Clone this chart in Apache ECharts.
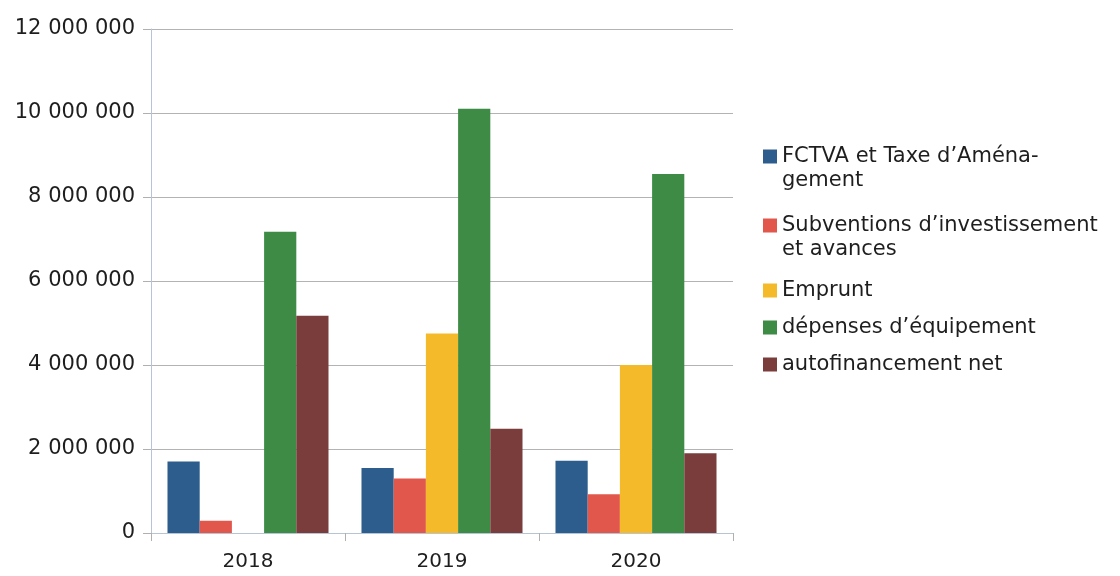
<!DOCTYPE html>
<html><head><meta charset="utf-8">
<script src="https://cdn.jsdelivr.net/npm/echarts@6/dist/echarts.min.js"></script>
<style>html,body{margin:0;padding:0;background:#fff}#c{width:1120px;height:576px}</style>
</head><body><div id="c"></div>
<script>
const categories = ['2018', '2019', '2020'];
const seriesNames = ["FCTVA et Taxe d’Aména-\ngement", "Subventions d’investissement\net avances", "Emprunt", "dépenses d’équipement", "autofinancement net"];
const fctva = [1700000, 1550000, 1720000];
const subventions = [290000, 1300000, 920000];
const emprunt = [0, 4750000, 4000000];
const depenses = [7170000, 10100000, 8550000];
const autofinancement = [5170000, 2480000, 1900000];
const yTicks = [0, 2000000, 4000000, 6000000, 8000000, 10000000, 12000000];
const colors = ['#2c5d8c', '#e2574c', '#f5ba29', '#3d8b45', '#7b3c3c'];

const values = [fctva, subventions, emprunt, depenses, autofinancement];
const FONT = 'DejaVu Sans';
const chart = echarts.init(document.getElementById('c'));
const fmt = v => String(v).replace(/\B(?=(\d{3})+(?!\d))/g, ' ');
const LH = 27;
const LEG_X = 763;
const LEG_FS = 21;
const iconCenters = [153, 222, 287, 324, 361];
const legends = seriesNames.map((n, i) => ({
  orient: 'vertical', left: LEG_X, top: iconCenters[i] - 7, padding: 0,
  itemWidth: 14, itemHeight: 14, icon: 'rect',
  formatter: s => s.split('\n')[0],
  textStyle: {fontSize: LEG_FS, color: '#1e1e1e', fontFamily: FONT},
  data: [n]
}));
const contLines = [];
seriesNames.forEach((n, i) => {
  n.split('\n').slice(1).forEach((t, k) => {
    contLines.push({
      type: 'text', left: LEG_X + 19, top: iconCenters[i] + LH * (k + 1) - 10,
      style: {text: t, fontSize: LEG_FS, fill: '#1e1e1e', fontFamily: FONT}
    });
  });
});
chart.setOption({
  animation: false,
  backgroundColor: '#fff',
  textStyle: {fontFamily: FONT},
  grid: {left: 151, right: 387, top: 29, bottom: 43, containLabel: false},
  legend: legends,
  graphic: contLines,
  xAxis: {
    type: 'category', data: categories,
    axisLine: {lineStyle: {color: '#b7c4d4'}},
    axisTick: {show: true, length: 8, lineStyle: {color: '#b0b0b0'}},
    axisLabel: {fontSize: 20, color: '#1e1e1e', margin: 19, fontFamily: FONT}
  },
  yAxis: {
    type: 'value', min: yTicks[0], max: yTicks[yTicks.length - 1], interval: 2000000,
    axisLine: {show: true, lineStyle: {color: '#b7c4d4'}},
    axisTick: {show: true, length: 8, lineStyle: {color: '#b0b0b0'}},
    splitLine: {lineStyle: {color: '#b3b3b3'}},
    axisLabel: {fontSize: 21, color: '#1e1e1e', margin: 16, formatter: fmt, fontFamily: FONT}
  },
  series: seriesNames.map((n, i) => ({
    name: n, type: 'bar', data: values[i],
    barGap: '0%', barCategoryGap: '17%',
    itemStyle: {color: colors[i]}
  }))
});
</script></body></html>
